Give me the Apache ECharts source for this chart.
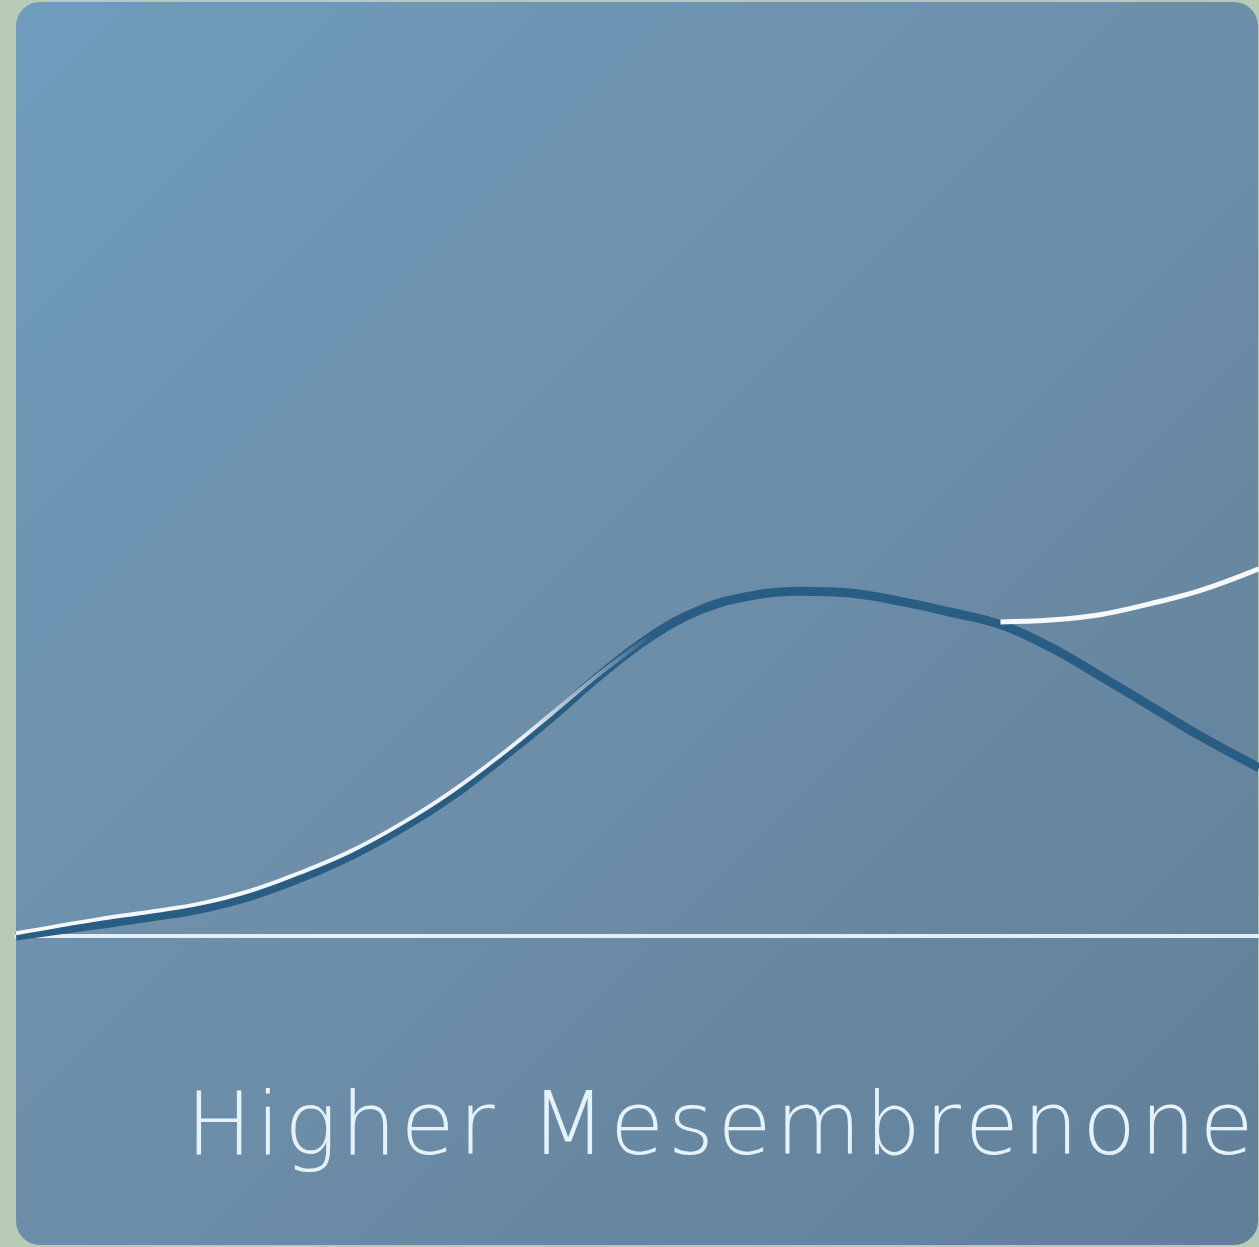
<!DOCTYPE html>
<html>
<head>
<meta charset="utf-8">
<title>Higher Mesembrenone</title>
<script src="https://cdn.jsdelivr.net/npm/echarts@6/dist/echarts.min.js"></script>
<style>
    html, body { margin: 0; padding: 0; background: #b7cab5; }
    #curve { width: 1259px; height: 1247px; }
</style>
</head>
<body>
<div id="curve"></div>
<script>
// x 位置 (0-100)
var xDark = [0, 6.8, 10.8, 14.8, 18.8, 22.8, 26.9, 30.9, 34.9, 38.9, 43.0, 47.0, 51.0, 55.0, 59.1, 63.1, 67.1, 71.1, 75.1, 79.2, 83.2, 87.2, 91.2, 95.3, 100];
var yDark = [0, 1.3, 2.1, 3.0, 4.4, 6.4, 8.9, 11.9, 15.4, 19.6, 24.2, 29.0, 33.2, 36.2, 37.8, 38.3, 38.1, 37.2, 36.0, 34.6, 32.1, 28.9, 25.6, 22.2, 18.7];

// 白线 前半段
var xWhiteA = [0, 6.8, 10.8, 14.8, 18.8, 22.8, 26.9, 30.9, 34.9, 38.9, 43.0, 47.0, 51.0];
var yWhiteA = [0.3, 1.9, 2.7, 3.6, 5.0, 7.0, 9.4, 12.4, 15.9, 20.0, 24.6, 29.2, 33.3];

// 白线 后半段
var xWhiteB = [79.2, 83.2, 87.2, 91.2, 95.3, 100];
var yWhiteB = [34.9, 35.1, 35.7, 36.9, 38.4, 40.8];

var label = 'Higher Mesembrenone';

function pairs(xs, ys) {
    var out = [];
    for (var i = 0; i < xs.length; i++) {
        out.push([xs[i], ys[i]]);
    }
    return out;
}

// 字间距: 每个字之间插入窄空格
function spaced(str) {
    return str.split('').map(function (c) {
        return '{t|' + c + '}';
    }).join('{s| }');
}

function drawChart() {
    var myChart = echarts.init(document.getElementById('curve'));
    var option = {
        animation: false,
        backgroundColor: '#b7cab5',
        graphic: [
            {
                type: 'rect',
                z: -10,
                shape: { x: 16, y: 2, width: 1242, height: 1243, r: 24 },
                style: {
                    fill: new echarts.graphic.LinearGradient(0, 0, 1, 1, [
                        { offset: 0, color: '#6f9cbd' },
                        { offset: 0.5, color: '#6d8ea9' },
                        { offset: 1, color: '#617f98' }
                    ])
                }
            },
            {
                type: 'text',
                z: 100,
                left: 186,
                top: 1087,
                style: {
                    text: spaced(label),
                    rich: {
                        t: {
                            fill: '#e6f2fa',
                            fontSize: 88,
                            fontWeight: 200,
                            fontFamily: '"DejaVu Sans", sans-serif'
                        },
                        s: {
                            fontSize: 12,
                            fontFamily: '"DejaVu Sans", sans-serif'
                        }
                    }
                }
            }
        ],
        grid: {
            left: 16,
            right: 0,
            top: 36,
            bottom: 311
        },
        xAxis: {
            type: 'value',
            min: 0,
            max: 100,
            axisLine: {
                show: true,
                lineStyle: { color: '#e6eef3', width: 4 }
            },
            axisTick: { show: false },
            axisLabel: { show: false },
            splitLine: { show: false }
        },
        yAxis: {
            type: 'value',
            min: 0,
            max: 100,
            axisLine: { show: false },
            axisTick: { show: false },
            axisLabel: { show: false },
            splitLine: { show: false }
        },
        series: [
            {
                type: 'line',
                z: 3,
                smooth: 0.4,
                symbol: 'none',
                data: pairs(xDark, yDark),
                lineStyle: { color: '#2a5d84', width: 9 }
            },
            {
                type: 'line',
                z: 4,
                smooth: 0.4,
                symbol: 'none',
                data: pairs(xWhiteA, yWhiteA),
                lineStyle: {
                    width: 4,
                    color: new echarts.graphic.LinearGradient(0, 0, 1, 0, [
                        { offset: 0, color: 'rgba(245,249,252,1)' },
                        { offset: 0.8, color: 'rgba(245,249,252,0.95)' },
                        { offset: 1, color: 'rgba(245,249,252,0)' }
                    ])
                }
            },
            {
                type: 'line',
                z: 4,
                smooth: 0.4,
                symbol: 'none',
                data: pairs(xWhiteB, yWhiteB),
                lineStyle: { color: '#f5f9fc', width: 5 }
            }
        ]
    };
    myChart.setOption(option);
}

drawChart();
</script>
</body>
</html>
